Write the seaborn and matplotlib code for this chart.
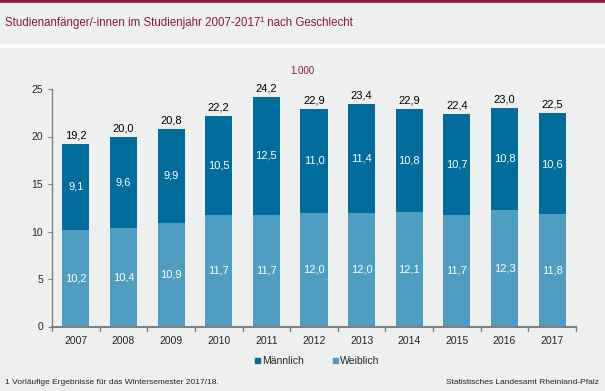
import matplotlib
matplotlib.use("Agg")
import matplotlib.pyplot as plt
from matplotlib.patches import Rectangle
import seaborn as sns
import pandas as pd

years = ["2007", "2008", "2009", "2010", "2011", "2012", "2013", "2014", "2015", "2016", "2017"]
weiblich = [10.2, 10.4, 10.9, 11.7, 11.7, 12.0, 12.0, 12.1, 11.7, 12.3, 11.8]
maennlich = [9.1, 9.6, 9.9, 10.5, 12.5, 11.0, 11.4, 10.8, 10.7, 10.8, 10.6]
totals = [19.2, 20.0, 20.8, 22.2, 24.2, 22.9, 23.4, 22.9, 22.4, 23.0, 22.5]

dark_blue = "#006d9c"
light_blue = "#4f9dc0"
bg = "#eeefef"
title_red = "#8c1a3c"
axis_grey = "#808080"

sns.set_style("ticks")
plt.rcParams["font.family"] = ["Liberation Sans", "DejaVu Sans"]

df = pd.DataFrame({"year": years, "w": weiblich, "m": maennlich, "total": totals})

W, H = 605.0, 391.0
fig = plt.figure(figsize=(6.05, 3.91), dpi=100, facecolor="white")
# background bands (behind the axes)
fig.patches.append(Rectangle((0, 1 - 3 / H), 1, 3 / H, transform=fig.transFigure, color=title_red, zorder=-10))
fig.patches.append(Rectangle((0, 1 - 43 / H), 1, 40 / H, transform=fig.transFigure, color=bg, zorder=-10))
fig.patches.append(Rectangle((0, 0), 1, 1 - 48 / H, transform=fig.transFigure, color=bg, zorder=-10))

ax = fig.add_axes([52 / W, 1 - 326.5 / H, 524 / W, 237.5 / H])
ax.set_facecolor(bg)

# stacked: total in dark blue, weiblich drawn over it
sns.barplot(data=df, x="year", y="total", color=dark_blue, width=0.57, saturation=1, linewidth=0, ax=ax)
sns.barplot(data=df, x="year", y="w", color=light_blue, width=0.57, saturation=1, linewidth=0, ax=ax)

for i in range(len(years)):
    ax.text(i, weiblich[i] / 2, f"{weiblich[i]:.1f}".replace(".", ","), ha="center", va="center",
            color="white", fontsize=8)
    ax.text(i, weiblich[i] + maennlich[i] / 2, f"{maennlich[i]:.1f}".replace(".", ","), ha="center",
            va="center", color="white", fontsize=8)
    ax.text(i, totals[i] + 0.35, f"{totals[i]:.1f}".replace(".", ","), ha="center", va="bottom",
            color="black", fontsize=8)

ax.set_ylim(0, 25)
ax.set_xlim(-0.5, len(years) - 0.5)
ax.set_yticks([0, 5, 10, 15, 20, 25])
ax.set_xlabel("")
ax.set_ylabel("")
ax.tick_params(axis="both", labelsize=7.5, color=axis_grey, length=3)
ax.tick_params(axis="x", length=0, pad=7)
for x in [i - 0.5 for i in range(len(years) + 1)]:
    ax.plot([x, x], [0, -0.45], color=axis_grey, lw=1, clip_on=False)
for s in ["top", "right"]:
    ax.spines[s].set_visible(False)
for s in ["left", "bottom"]:
    ax.spines[s].set_color(axis_grey)
ax.spines["left"].set_linewidth(1)
ax.spines["bottom"].set_linewidth(1.5)

fig.text(302 / W, 1 - 71 / H, "1.000", color=title_red, fontsize=7, ha="center", va="center")

# legend
lx = [255, 333]
labels = ["Männlich", "Weiblich"]
cols = [dark_blue, light_blue]
for x, lab, c in zip(lx, labels, cols):
    fig.patches.append(Rectangle((x / W, 1 - 363 / H), 5 / W, 5 / H, transform=fig.transFigure, color=c))
    fig.text((x + 7) / W, 1 - 360.5 / H, lab, fontsize=7.5, va="center", ha="left")

fig.text(5 / W, 1 - 22.5 / H, "Studienanfänger/-innen im Studienjahr 2007-2017¹ nach Geschlecht",
         color=title_red, fontsize=8.3, va="center", ha="left")
fig.text(5 / W, 1 - 383 / H, "1 Vorläufige Ergebnisse für das Wintersemester 2017/18.",
         fontsize=6, va="center", ha="left")
fig.text(599 / W, 1 - 383 / H, "Statistisches Landesamt Rheinland-Pfalz",
         fontsize=6, va="center", ha="right")

fig.savefig("out.png", dpi=100, facecolor=fig.get_facecolor())
